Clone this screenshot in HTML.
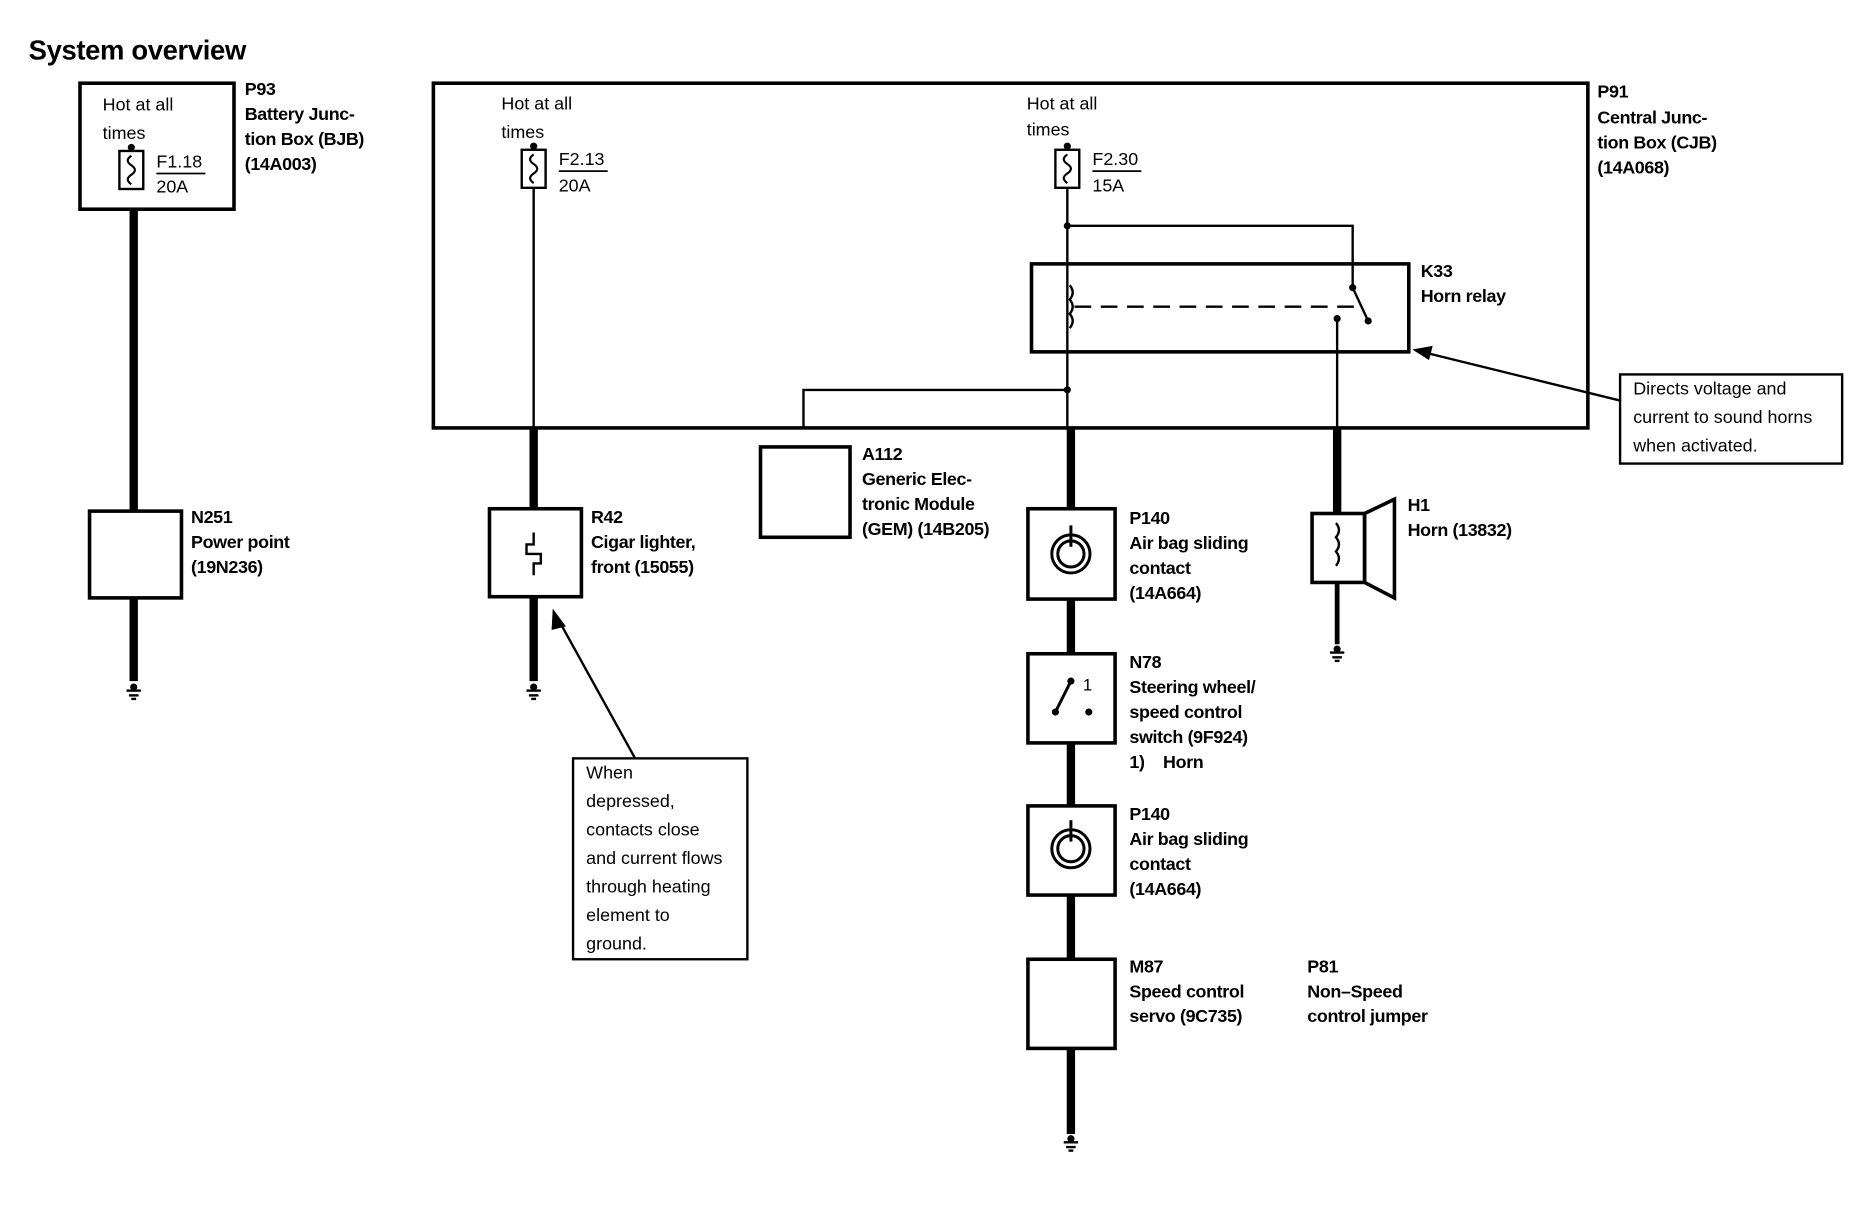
<!DOCTYPE html>
<html><head><style>
html,body{margin:0;padding:0;background:#fff;}
svg{display:block}
text{font-family:"Liberation Sans",Arial,sans-serif;font-size:15px;fill:#000}
.b{font-weight:bold;letter-spacing:-0.3px}
</style></head><body>
<svg width="1872" height="1216" viewBox="0 0 1568 1023" preserveAspectRatio="none" xmlns="http://www.w3.org/2000/svg">
<defs>
<g id="gnd"><circle cx="0" cy="0" r="3"/><line x1="-6" y1="3" x2="6" y2="3" stroke="#000" stroke-width="2"/><line x1="-4" y1="7" x2="4" y2="7" stroke="#000" stroke-width="2"/><line x1="-2" y1="10" x2="2" y2="10" stroke="#000" stroke-width="2"/></g>
<g id="fuse"><rect x="-10" y="0" width="20" height="32" fill="#fff" stroke="#000" stroke-width="2"/><path d="M0,4 q-6,4 0,8 q6,4 0,8 q-6,4 0,8" fill="none" stroke="#000" stroke-width="1.8"/></g>
<g id="spiral" fill="none" stroke="#000" stroke-width="2.5"><circle r="16"/><circle r="11"/><line x1="0" y1="-6" x2="0" y2="-24"/></g>
</defs>
<text x="24" y="50" class="b" style="font-size:23px">System overview</text>

<!-- BJB -->
<rect x="67" y="70" width="129" height="106" fill="none" stroke="#000" stroke-width="3"/>
<text x="86" y="93">Hot at all</text><text x="86" y="117">times</text>
<circle cx="110" cy="124" r="3"/>
<use href="#fuse" x="110" y="127"/>
<text x="131" y="141">F1.18</text><line x1="131" y1="146" x2="172" y2="146" stroke="#000" stroke-width="1.5"/><text x="131" y="162">20A</text>
<text x="205" y="80" class="b">P93</text><text x="205" y="101" class="b">Battery Junc-</text><text x="205" y="122" class="b">tion Box (BJB)</text><text x="205" y="143" class="b">(14A003)</text>
<line x1="112" y1="176" x2="112" y2="430" stroke="#000" stroke-width="7"/>
<rect x="75" y="430" width="77" height="73" fill="none" stroke="#000" stroke-width="3"/>
<line x1="112" y1="503" x2="112" y2="573" stroke="#000" stroke-width="7"/>
<use href="#gnd" x="112" y="578"/>
<text x="160" y="440" class="b">N251</text><text x="160" y="461" class="b">Power point</text><text x="160" y="482" class="b">(19N236)</text>

<!-- CJB -->
<rect x="363" y="70" width="967" height="290" fill="none" stroke="#000" stroke-width="3"/>
<text x="1338" y="82" class="b">P91</text><text x="1338" y="104" class="b">Central Junc-</text><text x="1338" y="125" class="b">tion Box (CJB)</text><text x="1338" y="146" class="b">(14A068)</text>

<text x="420" y="92">Hot at all</text><text x="420" y="116">times</text>
<circle cx="447" cy="123" r="3"/>
<use href="#fuse" x="447" y="126"/>
<text x="468" y="139">F2.13</text><line x1="468" y1="144" x2="509" y2="144" stroke="#000" stroke-width="1.5"/><text x="468" y="161">20A</text>
<line x1="447" y1="158" x2="447" y2="360" stroke="#000" stroke-width="2"/>
<line x1="447" y1="360" x2="447" y2="428" stroke="#000" stroke-width="7"/>
<rect x="410" y="428" width="77" height="74" fill="none" stroke="#000" stroke-width="3"/>
<path d="M447,448 v10 h-6 v8 h12 v8 h-6 v10" fill="none" stroke="#000" stroke-width="2"/>
<line x1="447" y1="502" x2="447" y2="573" stroke="#000" stroke-width="7"/>
<use href="#gnd" x="447" y="578"/>
<text x="495" y="440" class="b">R42</text><text x="495" y="461" class="b">Cigar lighter,</text><text x="495" y="482" class="b">front (15055)</text>
<line x1="532" y1="638" x2="467" y2="520" stroke="#000" stroke-width="2"/>
<polygon points="463,512 474,527 462,530" fill="#000"/>
<rect x="480" y="638" width="146" height="169" fill="#fff" stroke="#000" stroke-width="2"/>
<text x="491" y="655">When</text><text x="491" y="679">depressed,</text><text x="491" y="703">contacts close</text><text x="491" y="727">and current flows</text><text x="491" y="751">through heating</text><text x="491" y="775">element to</text><text x="491" y="799">ground.</text>

<!-- F2.30 -->
<text x="860" y="92">Hot at all</text><text x="860" y="114">times</text>
<circle cx="894" cy="123" r="3"/>
<use href="#fuse" x="894" y="126"/>
<text x="915" y="139">F2.30</text><line x1="915" y1="144" x2="956" y2="144" stroke="#000" stroke-width="1.5"/><text x="915" y="161">15A</text>
<line x1="894" y1="158" x2="894" y2="360" stroke="#000" stroke-width="2"/>
<circle cx="894" cy="190" r="3"/><circle cx="894" cy="328" r="3"/>
<polyline points="894,190 1133,190 1133,242" fill="none" stroke="#000" stroke-width="2"/>
<rect x="864" y="222" width="316" height="74" fill="none" stroke="#000" stroke-width="3"/>
<path d="M896,240 q5,6 0,12 q5,6 0,12 q5,6 0,12" fill="none" stroke="#000" stroke-width="2"/>
<line x1="900" y1="258" x2="1140" y2="258" stroke="#000" stroke-width="2" stroke-dasharray="14,8"/>
<line x1="1133" y1="242" x2="1146" y2="270" stroke="#000" stroke-width="2"/>
<circle cx="1133" cy="242" r="3"/><circle cx="1146" cy="270" r="3"/>
<circle cx="1120" cy="268" r="3"/>
<line x1="1120" y1="268" x2="1120" y2="360" stroke="#000" stroke-width="2"/>
<text x="1190" y="233" class="b">K33</text><text x="1190" y="254" class="b">Horn relay</text>
<line x1="1357" y1="337" x2="1195" y2="297" stroke="#000" stroke-width="2"/>
<polygon points="1183,294 1200,291 1197,303" fill="#000"/>
<rect x="1357" y="315" width="186" height="75" fill="#fff" stroke="#000" stroke-width="2"/>
<text x="1368" y="332">Directs voltage and</text><text x="1368" y="356">current to sound horns</text><text x="1368" y="380">when activated.</text>

<polyline points="894,328 673,328 673,360" fill="none" stroke="#000" stroke-width="2"/>
<rect x="637" y="376" width="75" height="76" fill="none" stroke="#000" stroke-width="3"/>
<text x="722" y="387" class="b">A112</text><text x="722" y="408" class="b">Generic Elec-</text><text x="722" y="429" class="b">tronic Module</text><text x="722" y="450" class="b">(GEM) (14B205)</text>

<!-- Horn -->
<line x1="1120" y1="360" x2="1120" y2="432" stroke="#000" stroke-width="7"/>
<rect x="1099" y="432" width="44" height="58" fill="none" stroke="#000" stroke-width="3"/>
<polygon points="1143,432 1168,420 1168,503 1143,490" fill="none" stroke="#000" stroke-width="3"/>
<path d="M1119,440 q5,6 0,12 q5,6 0,12 q5,6 0,12" fill="none" stroke="#000" stroke-width="2"/>
<line x1="1120" y1="490" x2="1120" y2="542" stroke="#000" stroke-width="4"/>
<use href="#gnd" x="1120" y="546"/>
<text x="1179" y="430" class="b">H1</text><text x="1179" y="451" class="b">Horn (13832)</text>

<!-- main column -->
<line x1="897" y1="360" x2="897" y2="954" stroke="#000" stroke-width="7"/>
<rect x="861" y="428" width="73" height="76" fill="#fff" stroke="#000" stroke-width="3"/>
<use href="#spiral" x="897" y="466"/>
<text x="946" y="441" class="b">P140</text><text x="946" y="462" class="b">Air bag sliding</text><text x="946" y="483" class="b">contact</text><text x="946" y="504" class="b">(14A664)</text>
<rect x="861" y="550" width="73" height="75" fill="#fff" stroke="#000" stroke-width="3"/>
<line x1="884" y1="599" x2="897" y2="573" stroke="#000" stroke-width="2.5"/><circle cx="884" cy="599" r="3"/><circle cx="897" cy="573" r="3"/><circle cx="912" cy="599" r="3"/>
<text x="907" y="581" style="font-size:14px">1</text>
<text x="946" y="562" class="b">N78</text><text x="946" y="583" class="b">Steering wheel/</text><text x="946" y="604" class="b">speed control</text><text x="946" y="625" class="b">switch (9F924)</text><text x="946" y="646" class="b">1)&#160;&#160;&#160; Horn</text>
<rect x="861" y="678" width="73" height="75" fill="#fff" stroke="#000" stroke-width="3"/>
<use href="#spiral" x="897" y="714"/>
<text x="946" y="690" class="b">P140</text><text x="946" y="711" class="b">Air bag sliding</text><text x="946" y="732" class="b">contact</text><text x="946" y="753" class="b">(14A664)</text>
<rect x="861" y="807" width="73" height="75" fill="#fff" stroke="#000" stroke-width="3"/>
<text x="946" y="818" class="b">M87</text><text x="946" y="839" class="b">Speed control</text><text x="946" y="860" class="b">servo (9C735)</text>
<text x="1095" y="818" class="b">P81</text><text x="1095" y="839" class="b">Non–Speed</text><text x="1095" y="860" class="b">control jumper</text>
<use href="#gnd" x="897" y="958"/>
</svg>
</body></html>
